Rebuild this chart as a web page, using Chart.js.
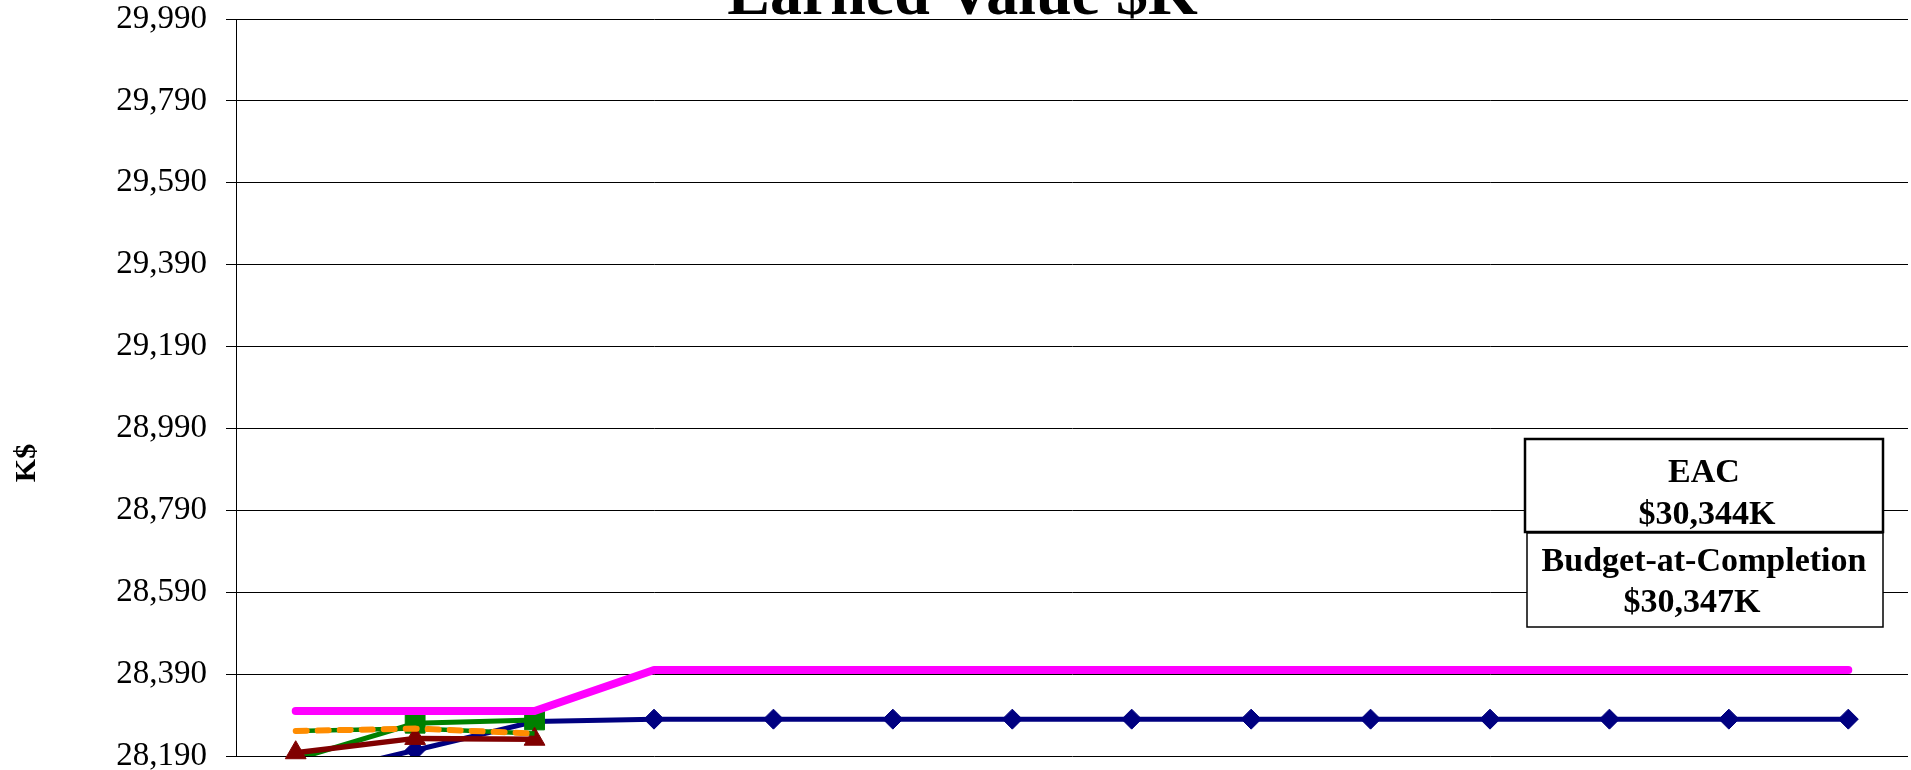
<!DOCTYPE html>
<html>
<head>
<meta charset="utf-8">
<title>Earned Value $K</title>
<script src="https://cdn.jsdelivr.net/npm/chart.js@4/dist/chart.umd.min.js"></script>
<style>
  html, body { margin: 0; padding: 0; background: #fff; overflow: hidden; }
  #wrap { position: absolute; left: 0; top: 0; width: 1911px; height: 800px; }
</style>
</head>
<body>
<div id="wrap"><canvas id="evChart" width="1911" height="800"></canvas></div>
<script>
// periods (x labels are cut off below the picture)
const periods = ['1', '2', '3', '4', '5', '6', '7', '8', '9', '10', '11', '12', '13', '14'];

// series values, K$
const pmb      = [28300, 28300, 28300, 28400, 28400, 28400, 28400, 28400, 28400, 28400, 28400, 28400, 28400, 28400];
const bcws     = [28135, 28204, 28274, 28280, 28280, 28280, 28280, 28280, 28280, 28280, 28280, 28280, 28280, 28280];
const bcwp     = [28182, 28270, 28278];
const acwp     = [28198, 28233, 28231];
const forecast = [28251, 28257, 28245];

// y axis
const yMin = 28190;
const yMax = 29990;
const yStep = 200;

const chartTitle = 'Earned Value $K';
const yTitle = 'K$';
const eacText = ['EAC', '$30,344K'];
const bacText = ['Budget-at-Completion', '$30,347K'];

const serif = '"Liberation Serif", "Times New Roman", serif';

// hide markers that fall under the axis minimum
function markerSize(size) {
    return function (ctx) {
        const v = ctx.raw;
        return (v === undefined || v < yMin) ? 0 : size;
    };
}

const textPlugin = {
    id: 'evText',
    afterDraw(chart) {
        const ctx = chart.ctx;
        ctx.save();

        // title, mostly cut off at the top
        ctx.fillStyle = '#000';
        ctx.font = 'bold 64px ' + serif;
        ctx.textAlign = 'center';
        ctx.textBaseline = 'alphabetic';
        ctx.fillText(chartTitle, chart.width / 2 + 7, 14);

        // y axis title
        ctx.save();
        ctx.translate(27, 463);
        ctx.rotate(-Math.PI / 2);
        ctx.font = 'bold 30px ' + serif;
        ctx.textBaseline = 'middle';
        ctx.fillText(yTitle, 0, 0);
        ctx.restore();

        // EAC box
        const bx = 1525;
        ctx.fillStyle = '#fff';
        ctx.fillRect(bx, 439, 358, 93);
        ctx.strokeStyle = '#000';
        ctx.lineWidth = 2.5;
        ctx.strokeRect(bx, 439, 358, 93);
        ctx.fillStyle = '#000';
        ctx.font = 'bold 34px ' + serif;
        ctx.fillText(eacText[0], bx + 179, 482);
        ctx.fillText(eacText[1], bx + 182, 524);

        // Budget-at-Completion box
        ctx.fillStyle = '#fff';
        ctx.fillRect(bx + 2, 533, 356, 94);
        ctx.lineWidth = 1.5;
        ctx.strokeRect(bx + 2, 533, 356, 94);
        ctx.fillStyle = '#000';
        ctx.fillText(bacText[0], bx + 179, 571);
        ctx.fillText(bacText[1], bx + 167, 612);

        ctx.restore();
    }
};

const ctx = document.getElementById('evChart').getContext('2d');
new Chart(ctx, {
    type: 'line',
    data: {
        labels: periods,
        datasets: [
            {
                label: 'PMB',
                data: pmb,
                borderColor: '#FF00FF',
                backgroundColor: '#FF00FF',
                borderWidth: 8,
                borderCapStyle: 'round',
                borderJoinStyle: 'round',
                pointRadius: 0,
                fill: false
            },
            {
                label: 'Forecast',
                data: forecast,
                borderColor: '#FF8C00',
                backgroundColor: '#FF8C00',
                borderWidth: 6,
                borderDash: [11, 11],
                borderCapStyle: 'round',
                pointRadius: 0,
                fill: false
            },
            {
                label: 'Forecast (base)',
                data: forecast,
                borderColor: '#008000',
                backgroundColor: '#008000',
                borderWidth: 4.5,
                pointRadius: 0,
                fill: false
            },
            {
                label: 'ACWP',
                data: acwp,
                borderColor: '#800000',
                backgroundColor: '#800000',
                borderWidth: 5.5,
                pointStyle: 'triangle',
                pointRadius: markerSize(12),
                pointBorderWidth: 1,
                fill: false,
                clip: { left: 20, top: 20, right: 20, bottom: 8 }
            },
            {
                label: 'BCWP',
                data: bcwp,
                borderColor: '#008000',
                backgroundColor: '#008000',
                borderWidth: 5,
                pointStyle: 'rect',
                pointRadius: markerSize(14),
                pointBorderWidth: 1,
                fill: false
            },
            {
                label: 'BCWS',
                data: bcws,
                borderColor: '#000080',
                backgroundColor: '#000080',
                borderWidth: 5,
                pointStyle: 'rectRot',
                pointRadius: markerSize(10),
                pointBorderWidth: 1,
                fill: false
            }
        ]
    },
    options: {
        responsive: false,
        animation: false,
        elements: { line: { tension: 0 } },
        layout: { autoPadding: false, padding: { left: 0, top: 19, right: 3, bottom: 44 } },
        plugins: {
            legend: { display: false },
            title: { display: false },
            tooltip: { enabled: false }
        },
        scales: {
            x: {
                type: 'category',
                offset: true,
                display: false
            },
            y: {
                min: yMin,
                max: yMax,
                afterFit: function (scale) {
                    scale.width = 236;
                    scale.paddingTop = 19;
                    scale.paddingBottom = 19;
                },
                ticks: {
                    stepSize: yStep,
                    padding: 19,
                    color: '#000',
                    font: { family: serif, size: 33 },
                    callback: function (value) {
                        return Number(value).toLocaleString('en-US');
                    }
                },
                grid: {
                    color: '#000',
                    lineWidth: 1,
                    tickLength: 10,
                    tickColor: '#000'
                },
                border: { display: true, color: '#000', width: 1 }
            }
        }
    },
    plugins: [textPlugin]
});
</script>
</body>
</html>
